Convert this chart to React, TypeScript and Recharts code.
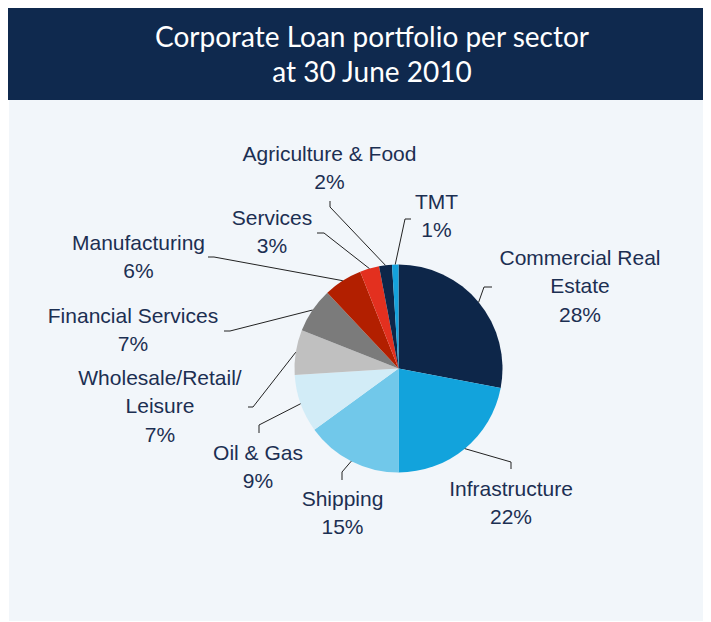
import { PieChart, Pie, Cell } from 'recharts'

// Corporate loan book split by sector, % of total at 30 June 2010
const sectors = [
  'Commercial Real\nEstate',
  'Infrastructure',
  'Shipping',
  'Oil & Gas',
  'Wholesale/Retail/\nLeisure',
  'Financial Services',
  'Manufacturing',
  'Services',
  'Agriculture & Food',
  'TMT',
]
const shares = [28, 22, 15, 9, 7, 7, 6, 3, 2, 1]

const colors = [
  '#0d2649',
  '#12a3dc',
  '#71c8ea',
  '#d2ecf7',
  '#c0c0c0',
  '#7b7b7b',
  '#b21f00',
  '#e3301f',
  '#0d2649',
  '#14a1dc',
]

// label placement (offsets from pie centre): text centre, leader elbow, leader tail
const labelLayout = [
  { tx: 181.5, ty: -111.5, ex: 85.5, ey: -81.5, fx: 93.5, fy: -81.5 },
  { tx: 112.5, ty: 119.5, ex: 112.5, ey: 93.5, fx: 112.5, fy: 100.5 },
  { tx: -56, ty: 129.5, ex: -56.5, ey: 103.5, fx: -56.5, fy: 111.5 },
  { tx: -140.5, ty: 83.5, ex: -139.5, ey: 56.5, fx: -139.5, fy: 64.5 },
  { tx: -238.5, ty: 8.5, ex: -145.5, ey: 38.5, fx: -150.5, fy: 38.5 },
  { tx: -265.5, ty: -53.5, ex: -168.5, ey: -37.5, fx: -174.5, fy: -37.5 },
  { tx: -260, ty: -126.5, ex: -184.5, ey: -111.5, fx: -190.5, fy: -111.5 },
  { tx: -126.5, ty: -151.5, ex: -74.5, ey: -135.5, fx: -81.5, fy: -135.5 },
  { tx: -69, ty: -215.5, ex: -68.5, ey: -161.5, fx: -68.5, fy: -167.5 },
  { tx: 38, ty: -167.5, ex: 6.5, ey: -149.5, fx: 12.5, fy: -149.5 },
]

const data = sectors.map((name, i) => ({ name, value: shares[i] }))

const RAD = Math.PI / 180
const LINE_H = 28.5

const renderLabel = (props: any) => {
  const { cx, cy, midAngle, outerRadius, index } = props
  const p = labelLayout[index]
  const sx = cx + outerRadius * Math.cos(-midAngle * RAD)
  const sy = cy + outerRadius * Math.sin(-midAngle * RAD)
  const lines = [...sectors[index].split('\n'), `${shares[index]}%`]
  return (
    <g key={`lbl-${index}`}>
      <polyline
        points={`${sx},${sy} ${cx + p.ex},${cy + p.ey} ${cx + p.fx},${cy + p.fy}`}
        fill="none"
        stroke="#222"
        strokeWidth={1}
      />
      <text
        x={cx + p.tx}
        y={cy + p.ty}
        textAnchor="middle"
        fill="#1c2f52"
        fontFamily="'Liberation Sans', Arial, sans-serif"
        fontSize={21}
      >
        {lines.map((t, j) => (
          <tspan key={j} x={cx + p.tx} y={cy + p.ty + j * LINE_H} dominantBaseline="central">
            {t}
          </tspan>
        ))}
      </text>
    </g>
  )
}

export default function App() {
  return (
    <div style={{ position: 'relative', width: 703, height: 614, marginTop: -1 }}>
      <div
        style={{
          position: 'absolute',
          left: 0,
          top: 0,
          width: 703,
          height: 93,
          background: '#0f294e',
          color: '#ffffff',
          fontFamily: 'Lato, sans-serif',
          fontSize: 28,
          lineHeight: '35px',
          textAlign: 'center',
          paddingTop: 12,
          boxSizing: 'border-box',
        }}
      >
        <div style={{ marginLeft: 25 }}>Corporate Loan portfolio per sector</div>
        <div style={{ marginLeft: 25 }}>at 30 June 2010</div>
      </div>
      <div
        style={{
          position: 'absolute',
          left: 1,
          top: 93,
          width: 702,
          height: 521,
          background: '#f2f6fa',
        }}
      >
        <PieChart width={702} height={521}>
          <Pie
            data={data}
            dataKey="value"
            nameKey="name"
            cx={384.5}
            cy={263.5}
            outerRadius={104}
            startAngle={90}
            endAngle={-270}
            stroke="none"
            label={renderLabel}
            labelLine={false}
            isAnimationActive={false}
          >
            {data.map((_, i) => (
              <Cell key={i} fill={colors[i]} />
            ))}
          </Pie>
        </PieChart>
      </div>
    </div>
  )
}
